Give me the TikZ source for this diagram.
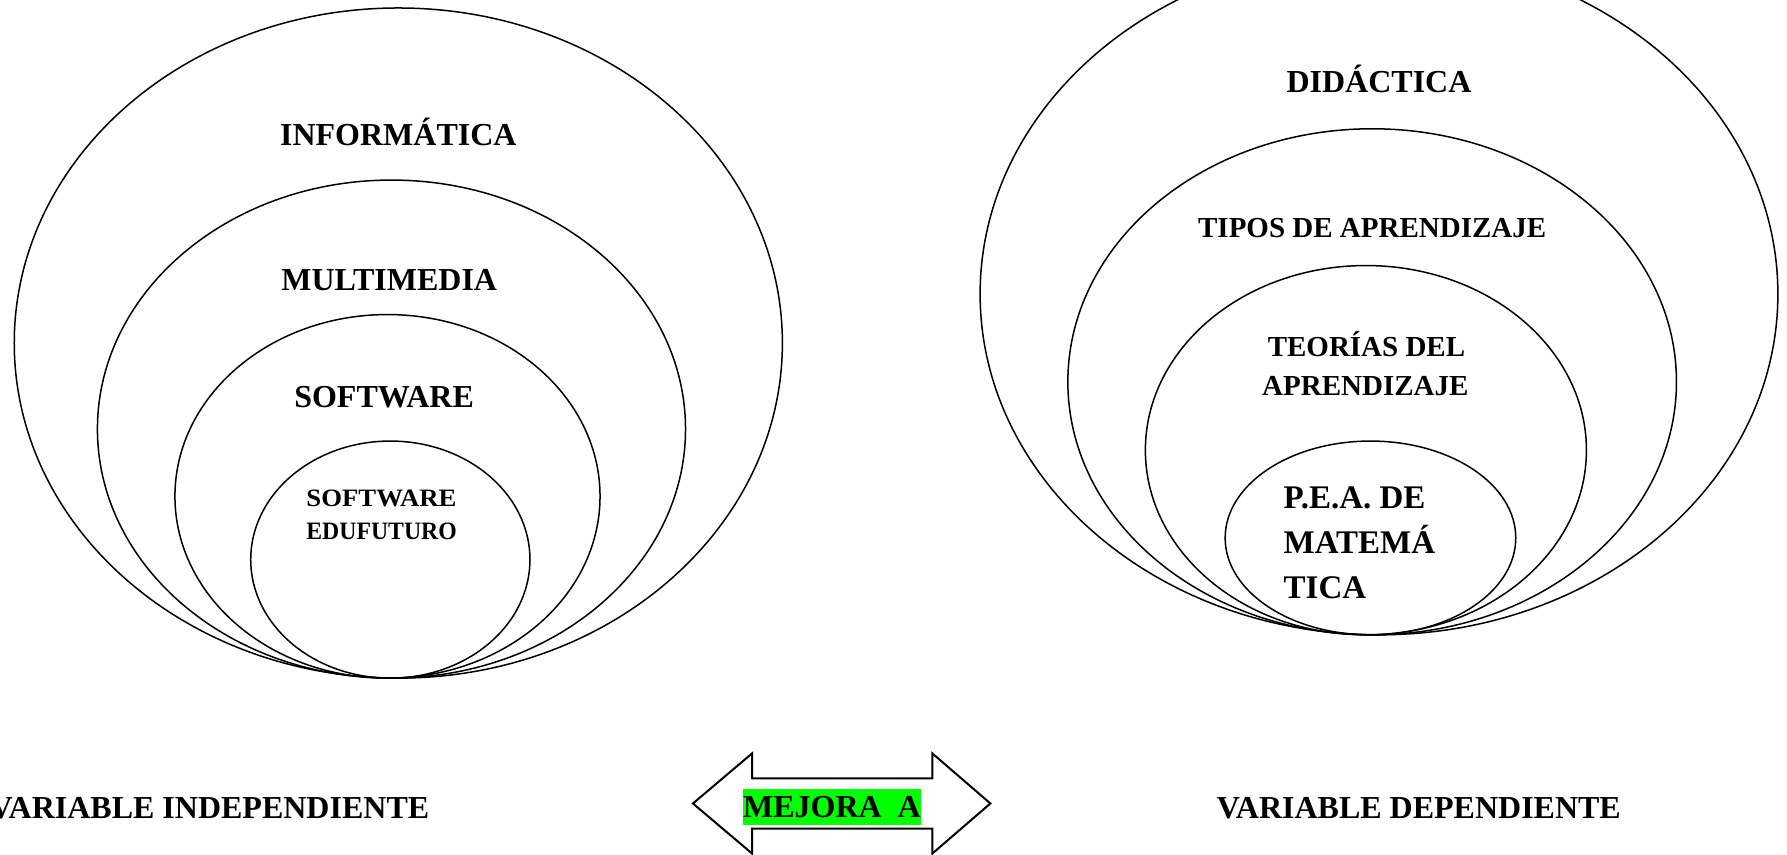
\documentclass[tikz,border=0pt]{standalone}
\usepackage{fontspec}
\setmainfont{Liberation Serif}
\definecolor{hlgreen}{RGB}{0,255,0}
\tikzset{
  ring/.style={draw=black, line width=0.75pt},
  lbl/.style={inner sep=0pt, text depth=0pt},
  sA/.style={lbl, font=\fontsize{16pt}{16pt}\selectfont\bfseries, text height=10.6pt},
  sB/.style={lbl, font=\fontsize{14.5pt}{14.5pt}\selectfont\bfseries, text height=9.6pt},
  sC/.style={lbl, font=\fontsize{12.5pt}{12.5pt}\selectfont\bfseries, text height=8.3pt},
  sD/.style={lbl, font=\fontsize{16.5pt}{16.5pt}\selectfont\bfseries, text height=10.9pt},
  arrowshape/.style={draw=black, line width=1pt, line join=miter, fill=white},
}
\begin{document}
\begin{tikzpicture}[x=0.5698pt, y=-0.5698pt]
\useasboundingbox (0,0) rectangle (1568,750);
% left nested ellipses
\draw[ring] (349.5,301) ellipse [x radius=337, y radius=294];
\draw[ring] (343.5,376.5) ellipse [x radius=258, y radius=218.5];
\draw[ring] (340,435.5) ellipse [x radius=186.5, y radius=159.5];
\draw[ring] (342.5,491) ellipse [x radius=122.5, y radius=104];
% right nested ellipses
\draw[ring] (1210,258) ellipse [x radius=350, y radius=299];
\draw[ring] (1204,335) ellipse [x radius=267, y radius=222];
\draw[ring] (1198.5,395) ellipse [x radius=193.5, y radius=162];
\draw[ring] (1202.5,472) ellipse [x radius=127.5, y radius=85];
% left labels
\node[sA] (inf) at (349.5,118) {INFORMÁTICA};
\node[sA] (mul) at (341.5,246) {MULTIMEDIA};
\node[sA] (sof) at (337,348) {SOFTWARE};
\node[sC, anchor=west, xscale=1.07, transform shape] (edu1) at (268.5,437.3) {SOFTWARE};
\node[sC, anchor=west, xscale=0.95, transform shape] (edu2) at (268.5,466.5) {EDUFUTURO};
% right labels
\node[sA] (did) at (1210,72) {DIDÁCTICA};
\node[sB] (tip) at (1204,200) {TIPOS DE APRENDIZAJE};
\node[sB] (teo1) at (1199,304) {TEORÍAS DEL};
\node[sB] (teo2) at (1198,339) {APRENDIZAJE};
\node[sD, anchor=west] (pea1) at (1126,437) {P.E.A. DE};
\node[sD, anchor=west] (pea2) at (1126,476) {MATEMÁ};
\node[sD, anchor=west] (pea3) at (1126,516) {TICA};
% double arrow
\draw[arrowshape] (608,705) -- (660,661) -- (660,683) -- (818,683) -- (818,661)
  -- (869,705) -- (818,749) -- (818,727) -- (660,727) -- (660,749) -- cycle;
\node[sA, fill=hlgreen, minimum width=88.9pt, minimum height=18.2pt] (mej) at (730,708) {MEJORA~~A};
% bottom labels
\node[sA, anchor=east] (vi) at (377,709) {VARIABLE INDEPENDIENTE};
\node[sA] (vd) at (1245,709) {VARIABLE DEPENDIENTE};
\end{tikzpicture}
\end{document}
